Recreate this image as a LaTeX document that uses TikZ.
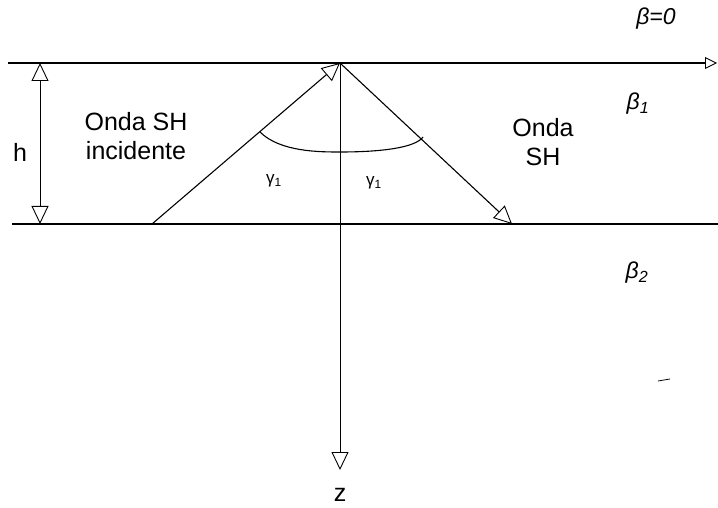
\documentclass[tikz,border=0pt]{standalone}
\usepackage{fontspec}
\setmainfont{Liberation Sans}
\usetikzlibrary{arrows.meta}
\begin{document}
\begin{tikzpicture}[x=1pt,y=-1pt,
  ln/.style={line width=1.1pt},
  thin ln/.style={line width=0.8pt},
  tri/.tip={Triangle[open,length=18pt,width=17pt,line width=0.9pt]},
  oarrow/.style={-tri},
  lbl/.style={inner sep=0pt,font=\fontsize{25}{29}\selectfont,align=center},
  glbl/.style={inner sep=0pt,font=\fontsize{17}{20}\selectfont},
  blbl/.style={inner sep=0pt,font=\fontsize{23}{27}\selectfont\itshape}]
\useasboundingbox (0,0) rectangle (718,508);
% key points
\coordinate (tl) at (8,63);
\coordinate (tr) at (717,63);
\coordinate (bl) at (12,224);
\coordinate (br) at (718,224);
\coordinate (o) at (340,63);
\coordinate (zend) at (340,470);
\coordinate (inS) at (152,224);
\coordinate (reE) at (512,224);
\coordinate (hT) at (40,63);
\coordinate (hB) at (40,224);
\coordinate (a1) at (260,132);
\coordinate (a2) at (423,137);
% interfaces
\draw[ln,-{Triangle[open,length=12pt,width=12pt,line width=0.9pt]}] (tl) -- (tr);
\draw[ln] (bl) -- (br);
% z axis
\draw[thin ln,oarrow] (o) -- (zend);
% h
\draw[thin ln,tri-tri] (hT) -- (hB);
% rays
\draw[ln,oarrow] (inS) -- (o);
\draw[ln,oarrow] (o) -- (reE);
% angle arc
\draw[ln] (a1) .. controls (280,152) and (320,152) .. (340,152) .. controls (380,152) and (415,148) .. (a2);
% labels
\node[lbl] (hl) at (20,152) {h};
\node[lbl] (inc) at (136,136) {Onda SH\\incidente};
\node[lbl] (ref) at (543,142) {Onda\\SH};
\node[glbl] (g1) at (274,181) {γ\textsubscript{1}};
\node[glbl] (g2) at (374,183) {γ\textsubscript{1}};
\node[blbl] (b0) at (656,19) {β=0};
\node[blbl] (b1) at (638,104) {β\textsubscript{1}};
\node[blbl] (b2) at (637,273) {β\textsubscript{2}};
\node[lbl] (z) at (340,495) {z};
% small stray mark
\draw[thin ln] (658,381) -- (670,379);
\end{tikzpicture}
\end{document}
